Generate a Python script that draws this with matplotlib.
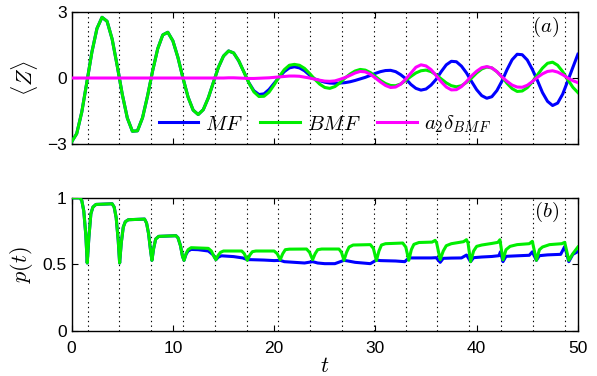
import numpy as np
import matplotlib
matplotlib.use("Agg")
import matplotlib.pyplot as plt

plt.rcParams['font.family'] = ['Liberation Sans', 'DejaVu Sans']
plt.rcParams['mathtext.fontset'] = 'cm'

# ---- panel (a): <Z> vs t, sampled every 0.5 from t=0 to 50 ----
t_a = np.arange(0, 50.01, 0.5)

z_bmf = [-2.90, -2.53, -1.55, -0.20, 1.18, 2.25, 2.76, 2.58, 1.77, 0.56,
         -0.74, -1.82, -2.42, -2.40, -1.81, -0.81, 0.33, 1.33, 1.96, 2.08,
         1.69, 0.93, -0.01, -0.87, -1.46, -1.66, -1.44, -0.90, -0.20, 0.49,
         1.00, 1.23, 1.14, 0.79, 0.29, -0.22, -0.63, -0.84, -0.83, -0.64,
         -0.31, 0.06, 0.38, 0.58, 0.62, 0.58, 0.44, 0.21, -0.05, -0.28,
         -0.43, -0.47, -0.39, -0.22, 0.00, 0.18, 0.32, 0.39, 0.36, 0.25,
         0.07, -0.11, -0.25, -0.34, -0.35, -0.27, -0.11, 0.07, 0.23, 0.33,
         0.36, 0.29, 0.15, -0.04, -0.22, -0.35, -0.40, -0.35, -0.20, 0.00,
         0.23, 0.41, 0.50, 0.46, 0.29, 0.05, -0.24, -0.48, -0.61, -0.59,
         -0.44, -0.18, 0.14, 0.45, 0.67, 0.72, 0.58, 0.29, -0.07, -0.42,
         -0.66]

z_mf = [-2.90, -2.53, -1.55, -0.20, 1.18, 2.25, 2.76, 2.58, 1.77, 0.56,
        -0.74, -1.82, -2.42, -2.40, -1.81, -0.81, 0.33, 1.33, 1.96, 2.08,
        1.69, 0.93, -0.01, -0.87, -1.46, -1.66, -1.44, -0.90, -0.20, 0.49,
        1.00, 1.23, 1.14, 0.78, 0.29, -0.21, -0.58, -0.75, -0.72, -0.52,
        -0.24, 0.04, 0.29, 0.46, 0.51, 0.46, 0.33, 0.13, -0.04, -0.12,
        -0.19, -0.23, -0.24, -0.23, -0.21, -0.17, -0.11, -0.04, 0.03, 0.12,
        0.21, 0.29, 0.34, 0.35, 0.29, 0.15, -0.03, -0.29, -0.47, -0.55,
        -0.50, -0.32, -0.06, 0.29, 0.60, 0.76, 0.74, 0.54, 0.23, -0.16,
        -0.53, -0.80, -0.92, -0.85, -0.57, -0.14, 0.38, 0.83, 1.08, 1.06,
        0.82, 0.39, -0.11, -0.66, -1.06, -1.25, -1.14, -0.73, -0.13, 0.48,
        1.08]

z_delta = [0.0, 0.0, 0.0, 0.0, 0.0, 0.0, 0.0, 0.0, 0.0, 0.0,
           0.0, 0.0, 0.0, 0.0, 0.0, 0.0, 0.0, 0.0, 0.0, 0.0,
           0.0, 0.0, 0.0, 0.0, 0.0, 0.0, 0.0, 0.0, 0.0, 0.0,
           0.0, 0.01, 0.01, 0.0, -0.01, -0.02, -0.02, -0.01, 0.0, 0.01,
           0.03, 0.05, 0.07, 0.09, 0.09, 0.08, 0.04, 0.0, -0.05, -0.10,
           -0.14, -0.15, -0.13, -0.06, 0.02, 0.12, 0.23, 0.30, 0.28, 0.17,
           0.0, -0.18, -0.34, -0.43, -0.41, -0.28, -0.05, 0.22, 0.49, 0.60,
           0.55, 0.38, 0.11, -0.17, -0.41, -0.54, -0.53, -0.39, -0.16, 0.10,
           0.31, 0.47, 0.52, 0.46, 0.29, 0.05, -0.15, -0.32, -0.41, -0.42,
           -0.33, -0.16, 0.03, 0.19, 0.30, 0.33, 0.27, 0.15, 0.0, -0.12,
           -0.21]

# ---- panel (b): p(t) ----
t_p_bmf = [0, 0.8, 1.0, 1.2, 1.4, 1.54, 1.7, 1.9, 2.1, 2.4,
           4.0, 4.2, 4.4, 4.6, 4.74, 4.9, 5.1, 5.3, 5.6,
           7.2, 7.4, 7.6, 7.8, 7.93, 8.1, 8.3, 8.6,
           10.3, 10.5, 10.75, 10.95, 11.1, 11.3, 11.5, 11.8,
           13.5, 13.8, 14.05, 14.25, 14.45, 14.7, 15.0,
           16.8, 17.05, 17.35, 17.6, 17.85, 18.2,
           20.0, 20.3, 20.6, 20.85, 21.1, 21.5,
           23.2, 23.5, 23.8, 24.05, 24.3, 24.7,
           26.4, 26.65, 26.9, 27.15, 27.4, 27.8,
           29.5, 29.8, 30.1, 30.35, 30.6, 31.0,
           32.7, 33.0, 33.3, 33.55, 33.8, 34.3,
           35.6, 35.9, 36.05, 36.4, 36.7, 37.0, 37.5,
           38.7, 39.0, 39.15, 39.4, 39.7, 40.0, 40.5, 41.5,
           42.1, 42.3, 42.6, 42.9, 43.3, 44.0,
           45.2, 45.5, 45.9, 46.2, 46.5, 47.2,
           48.4, 48.7, 49.1, 49.5, 50.0]
p_bmf = [1.0, 1.0, 0.98, 0.90, 0.72, 0.51, 0.70, 0.88, 0.93, 0.95,
         0.955, 0.93, 0.85, 0.68, 0.51, 0.66, 0.78, 0.82, 0.835,
         0.84, 0.81, 0.73, 0.60, 0.53, 0.62, 0.69, 0.71,
         0.715, 0.70, 0.64, 0.56, 0.53, 0.58, 0.61, 0.625,
         0.62, 0.60, 0.56, 0.535, 0.565, 0.59, 0.60,
         0.60, 0.58, 0.53, 0.57, 0.595, 0.60,
         0.60, 0.58, 0.535, 0.58, 0.61, 0.614,
         0.615, 0.59, 0.535, 0.58, 0.61, 0.615,
         0.615, 0.59, 0.53, 0.59, 0.63, 0.645,
         0.648, 0.62, 0.528, 0.60, 0.645, 0.655,
         0.66, 0.63, 0.53, 0.61, 0.65, 0.664,
         0.667, 0.68, 0.66, 0.535, 0.60, 0.64, 0.655,
         0.67, 0.685, 0.66, 0.52, 0.60, 0.635, 0.645, 0.657,
         0.665, 0.685, 0.534, 0.61, 0.635, 0.648,
         0.655, 0.673, 0.53, 0.61, 0.63, 0.648,
         0.655, 0.665, 0.53, 0.58, 0.63]

t_p_mf = [0, 0.8, 1.0, 1.2, 1.4, 1.54, 1.7, 1.9, 2.1, 2.4,
          4.0, 4.2, 4.4, 4.6, 4.74, 4.9, 5.1, 5.3, 5.6,
          7.2, 7.4, 7.6, 7.8, 7.93, 8.1, 8.3, 8.6,
          10.3, 10.5, 10.75, 10.95, 11.1, 11.3, 11.5, 11.8,
          12.5, 13.5, 14.0, 14.25, 14.5, 14.8, 16.0, 16.9, 17.35, 17.7,
          19.0, 20.0, 20.6, 21.0, 22.0, 23.0, 23.8, 24.3, 25.0, 26.0,
          26.9, 27.3, 28.0, 29.5, 30.1, 30.5, 32.0, 32.9, 33.3, 34.0,
          35.5, 36.0, 36.4, 36.7, 37.5, 38.5, 39.0, 39.4, 39.7, 40.5,
          41.5, 42.2, 42.35, 42.6, 42.9, 44.0, 45.2, 45.5, 45.9, 46.2,
          47.0, 48.3, 48.7, 49.1, 49.5, 50.0]
p_mf = [1.0, 1.0, 0.98, 0.90, 0.72, 0.51, 0.70, 0.88, 0.93, 0.95,
        0.955, 0.93, 0.85, 0.68, 0.51, 0.66, 0.78, 0.82, 0.835,
        0.84, 0.81, 0.73, 0.60, 0.53, 0.62, 0.69, 0.71,
        0.715, 0.70, 0.64, 0.56, 0.53, 0.575, 0.60, 0.612,
        0.61, 0.60, 0.57, 0.535, 0.555, 0.564, 0.558, 0.548, 0.535, 0.535,
        0.532, 0.528, 0.53, 0.52, 0.515, 0.51, 0.52, 0.51, 0.505, 0.505,
        0.53, 0.525, 0.515, 0.505, 0.532, 0.528, 0.525, 0.52, 0.548, 0.548,
        0.548, 0.55, 0.515, 0.545, 0.547, 0.548, 0.57, 0.52, 0.55, 0.555,
        0.559, 0.565, 0.594, 0.52, 0.56, 0.564, 0.568, 0.594, 0.53, 0.565,
        0.571, 0.575, 0.634, 0.52, 0.575, 0.596]

# dotted guide lines at t = pi/2 + k*pi
t_marks = [1.57, 4.71, 7.85, 11.00, 14.14, 17.28, 20.42, 23.56, 26.70,
           29.85, 32.99, 36.13, 39.27, 42.41, 45.55, 48.69]

c_mf = '#0000ff'
c_bmf = '#00ee00'
c_delta = '#ff00ff'
lw = 2.2

fig = plt.figure(figsize=(5.97, 3.76), dpi=100)
ax1 = fig.add_axes([0.120, 0.617, 0.848, 0.351])
ax2 = fig.add_axes([0.120, 0.120, 0.848, 0.354])

for ax in (ax1, ax2):
    for tm in t_marks:
        ax.axvline(tm, color='k', ls=(0, (1.2, 3.0)), lw=0.8, zorder=1)
    ax.set_xlim(0, 50)
    ax.set_xticks([0, 10, 20, 30, 40, 50])
    ax.tick_params(direction='in', top=True, right=True, length=4, width=0.8,
                   labelsize=12.5)
    ax.tick_params(axis='x', pad=7)
    for s in ax.spines.values():
        s.set_linewidth(1.0)

ax1.plot(t_a, z_mf, color=c_mf, lw=lw, label=r'$MF$', zorder=3)
ax1.plot(t_a, z_bmf, color=c_bmf, lw=lw, label=r'$BMF$', zorder=4)
ax1.plot(t_a, z_delta, color=c_delta, lw=lw, label=r'$a_2\delta_{BMF}$', zorder=5)
ax1.set_ylim(-3, 3)
ax1.set_yticks([-3, 0, 3])
ax1.set_xticklabels([])
ax1.set_ylabel(r'$\langle Z\rangle$', fontsize=16)
ax1.yaxis.set_label_coords(-0.062, 0.5)
ax1.text(0.962, 0.975, r'$(a)$', transform=ax1.transAxes, ha='right', va='top',
         fontsize=15)
ax1.legend(loc='lower center', bbox_to_anchor=(0.5, -0.075), ncol=3, frameon=False,
           fontsize=15, handlelength=1.9, handletextpad=0.35, columnspacing=0.8)

ax2.plot(t_p_mf, p_mf, color=c_mf, lw=lw, zorder=3)
ax2.plot(t_p_bmf, p_bmf, color=c_bmf, lw=lw, zorder=4)
ax2.set_ylim(0, 1)
ax2.set_yticks([0, 0.5, 1])
ax2.set_yticklabels(['0', '0.5', '1'])
ax2.set_ylabel(r'$p(t)$', fontsize=16)
ax2.yaxis.set_label_coords(-0.072, 0.5)
ax2.set_xlabel(r'$t$', fontsize=16)
ax2.xaxis.set_label_coords(0.5, -0.185)
ax2.text(0.962, 0.985, r'$(b)$', transform=ax2.transAxes, ha='right', va='top',
         fontsize=15)

fig.savefig('out.png', dpi=100)
